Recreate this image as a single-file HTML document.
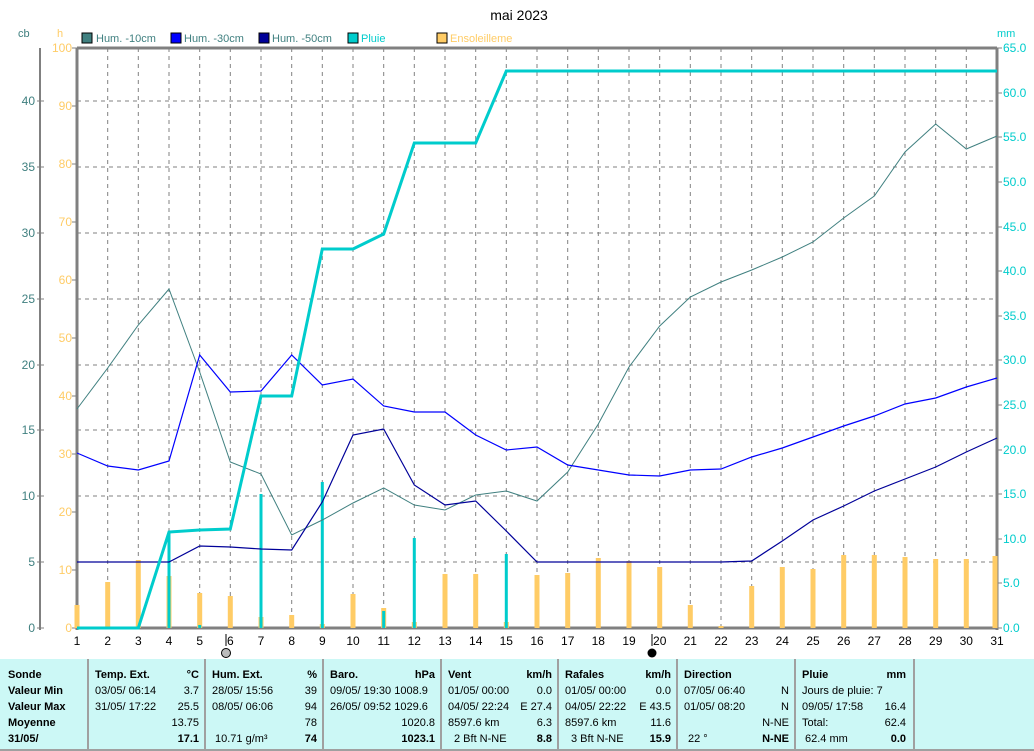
<!DOCTYPE html>
<html><head><meta charset="utf-8"><style>
body{margin:0;background:#fff;}
svg{display:block;font-family:"Liberation Sans",sans-serif;}
</style></head><body>
<svg width="1034" height="751" viewBox="0 0 1034 751" xmlns="http://www.w3.org/2000/svg">
<rect width="1034" height="751" fill="#fff"/>
<text x="519" y="20" font-size="14" text-anchor="middle" fill="#000">mai 2023</text>
<!-- legend -->
<g font-size="11">
<text x="18" y="37" fill="#408080">cb</text>
<text x="57" y="37" fill="#ffcc66">h</text>
<rect x="82" y="33" width="10" height="10" fill="#408080" stroke="#000"/><text x="96" y="42" fill="#408080">Hum. -10cm</text>
<rect x="171" y="33" width="10" height="10" fill="#0000ff" stroke="#000"/><text x="184" y="42" fill="#408080">Hum. -30cm</text>
<rect x="259" y="33" width="10" height="10" fill="#000099" stroke="#000"/><text x="272" y="42" fill="#408080">Hum. -50cm</text>
<rect x="348" y="33" width="10" height="10" fill="#00cccc" stroke="#000"/><text x="361" y="42" fill="#00cccc">Pluie</text>
<rect x="437" y="33" width="10" height="10" fill="#ffcc66" stroke="#000"/><text x="450" y="42" fill="#ffcc66">Ensoleilleme</text>
<text x="997" y="37" fill="#00cccc">mm</text>
</g>
<!-- grid -->
<g stroke="#808080" stroke-dasharray="4,4" stroke-width="1">
<path d="M107.7 48V628M138.3 48V628M169 48V628M199.7 48V628M230.3 48V628M261 48V628M291.7 48V628M322.3 48V628M353 48V628M383.7 48V628M414.3 48V628M445 48V628M475.7 48V628M506.3 48V628M537 48V628M567.7 48V628M598.3 48V628M629 48V628M659.7 48V628M690.3 48V628M721 48V628M751.7 48V628M782.3 48V628M813 48V628M843.7 48V628M874.3 48V628M905 48V628M935.7 48V628M966.3 48V628"/>
<path d="M77 562H997M77 496H997M77 430H997M77 365H997M77 299H997M77 233H997M77 167H997M77 101H997"/>
</g>
<!-- axes -->
<g stroke="#808080">
<line x1="40" y1="48" x2="40" y2="630" stroke-width="2"/>
<line x1="77" y1="48" x2="77" y2="630" stroke-width="3"/>
<line x1="997" y1="48" x2="997" y2="630" stroke-width="3"/>
<line x1="77" y1="48" x2="997" y2="48" stroke-width="3"/>
<line x1="77" y1="628" x2="997" y2="628" stroke-width="3"/>
<path d="M37 628H44M37 562H44M37 496H44M37 430H44M37 365H44M37 299H44M37 233H44M37 167H44M37 101H44"/>
<path d="M72 628H77M72 570H77M72 512H77M72 454H77M72 396H77M72 338H77M72 280H77M72 222H77M72 164H77M72 106H77M72 48H77"/>
<path d="M997 628H1002M997 583H1002M997 539H1002M997 494H1002M997 450H1002M997 405H1002M997 360H1002M997 316H1002M997 271H1002M997 227H1002M997 182H1002M997 137H1002M997 93H1002M997 48H1002"/>
</g>
<g font-size="12" fill="#408080" text-anchor="end">
<text x="35" y="632">0</text><text x="35" y="566">5</text><text x="35" y="500">10</text><text x="35" y="434">15</text><text x="35" y="369">20</text><text x="35" y="303">25</text><text x="35" y="237">30</text><text x="35" y="171">35</text><text x="35" y="105">40</text>
</g>
<g font-size="12" fill="#ffcc66" text-anchor="end">
<text x="72" y="632">0</text><text x="72" y="574">10</text><text x="72" y="516">20</text><text x="72" y="458">30</text><text x="72" y="400">40</text><text x="72" y="342">50</text><text x="72" y="284">60</text><text x="72" y="226">70</text><text x="72" y="168">80</text><text x="72" y="110">90</text><text x="72" y="52">100</text>
</g>
<g font-size="12" fill="#00cccc">
<text x="1003" y="632">0.0</text><text x="1003" y="587">5.0</text><text x="1003" y="543">10.0</text><text x="1003" y="498">15.0</text><text x="1003" y="454">20.0</text><text x="1003" y="409">25.0</text><text x="1003" y="364">30.0</text><text x="1003" y="320">35.0</text><text x="1003" y="275">40.0</text><text x="1003" y="231">45.0</text><text x="1003" y="186">50.0</text><text x="1003" y="141">55.0</text><text x="1003" y="97">60.0</text><text x="1003" y="52">65.0</text>
</g>
<g font-size="12" fill="#000" text-anchor="middle">
<text x="77" y="645">1</text><text x="107.7" y="645">2</text><text x="138.3" y="645">3</text><text x="169" y="645">4</text><text x="199.7" y="645">5</text><text x="230.3" y="645">6</text><text x="261" y="645">7</text><text x="291.7" y="645">8</text><text x="322.3" y="645">9</text><text x="353" y="645">10</text><text x="383.7" y="645">11</text><text x="414.3" y="645">12</text><text x="445" y="645">13</text><text x="475.7" y="645">14</text><text x="506.3" y="645">15</text><text x="537" y="645">16</text><text x="567.7" y="645">17</text><text x="598.3" y="645">18</text><text x="629" y="645">19</text><text x="659.7" y="645">20</text><text x="690.3" y="645">21</text><text x="721" y="645">22</text><text x="751.7" y="645">23</text><text x="782.3" y="645">24</text><text x="813" y="645">25</text><text x="843.7" y="645">26</text><text x="874.3" y="645">27</text><text x="905" y="645">28</text><text x="935.7" y="645">29</text><text x="966.3" y="645">30</text><text x="997" y="645">31</text>
</g>
<line x1="226" y1="634" x2="226" y2="646" stroke="#000"/>
<circle cx="226" cy="653" r="4.5" fill="#bbb" stroke="#000"/>
<line x1="652" y1="634" x2="652" y2="646" stroke="#000"/>
<circle cx="652" cy="653" r="4.5" fill="#000"/>
<!-- sunshine bars -->
<g stroke="#ffcc66" stroke-width="5">
<path d="M77 628V605M107.7 628V582M138.3 628V560M169 628V576M199.7 628V593M230.3 628V596M261 628V617M291.7 628V615M322.3 628V624M353 628V594M383.7 628V608M414.3 628V622M445 628V574M475.7 628V574M506.3 628V622M537 628V575M567.7 628V573M598.3 628V558M629 628V561M659.7 628V567M690.3 628V605M721 628V626M751.7 628V586M782.3 628V567M813 628V569M843.7 628V555M874.3 628V555M905 628V557M935.7 628V559M966.3 628V559M995 628V556"/>
</g>
<!-- daily rain bars -->
<g stroke="#00cccc" stroke-width="3">
<path d="M169 628V532M199.7 628V625M261 628V494M322.3 628V482M383.7 628V611M414.3 628V538M506.3 628V554"/>
</g>
<!-- lines -->
<polyline fill="none" stroke="#408080" stroke-width="1" points="77,409 107.7,368 138.3,325 169,289 199.7,372 230.3,462 261,474 291.7,535 322.3,520 353,503 383.7,488 414.3,505 445,510 475.7,495 506.3,491 537,501 567.7,472 598.3,424 629,367 659.7,326 690.3,297 721,282 751.7,270 782.3,257 813,242 843.7,218 874.3,196 905,152 935.7,124 966.3,149 997,136"/>
<polyline fill="none" stroke="#0000ff" stroke-width="1.2" points="77,453 107.7,466 138.3,470 169,461 199.7,355 230.3,392 261,391 291.7,355 322.3,385 353,379 383.7,406 414.3,412 445,412 475.7,435 506.3,450 537,447 567.7,465 598.3,470 629,475 659.7,476 690.3,470 721,469 751.7,457 782.3,448 813,437 843.7,426 874.3,416 905,404 935.7,398 966.3,387 997,378"/>
<polyline fill="none" stroke="#000099" stroke-width="1.2" points="77,562 107.7,562 138.3,562 169,562 199.7,546 230.3,547 261,549 291.7,550 322.3,502 353,435 383.7,429 414.3,485 445,505 475.7,501 506.3,531 537,562 567.7,562 598.3,562 629,562 659.7,562 690.3,562 721,562 751.7,561 782.3,541 813,520 843.7,506 874.3,491 905,479 935.7,467 966.3,452 997,438"/>
<polyline fill="none" stroke="#00cccc" stroke-width="3" points="77,628 138.3,628 169,532 199.7,530 230.3,529 261,396 291.7,396 322.3,249 353,249 383.7,234 414.3,143 475.7,143 506.3,71 997,71"/>
<!-- table -->
<rect x="0" y="659" width="1034" height="92" fill="#ccf8f6"/>
<g stroke="#a0a0a0" stroke-width="2">
<path d="M88 659V751M205 659V751M323 659V751M441 659V751M558 659V751M677 659V751M795 659V751M914 659V751"/>
</g>
<line x1="0" y1="750" x2="1034" y2="750" stroke="#a0a0a0" stroke-width="2"/>
<g font-size="11" fill="#000">
<g font-weight="bold">
<text x="8" y="678">Sonde</text><text x="8" y="694">Valeur Min</text><text x="8" y="710">Valeur Max</text><text x="8" y="726">Moyenne</text><text x="8" y="742">31/05/</text>
<text x="95" y="678">Temp. Ext.</text><text x="199" y="678" text-anchor="end">°C</text>
<text x="212" y="678">Hum. Ext.</text><text x="317" y="678" text-anchor="end">%</text>
<text x="330" y="678">Baro.</text><text x="435" y="678" text-anchor="end">hPa</text>
<text x="448" y="678">Vent</text><text x="552" y="678" text-anchor="end">km/h</text>
<text x="565" y="678">Rafales</text><text x="671" y="678" text-anchor="end">km/h</text>
<text x="684" y="678">Direction</text>
<text x="802" y="678">Pluie</text><text x="906" y="678" text-anchor="end">mm</text>
<text x="199" y="742" text-anchor="end">17.1</text><text x="317" y="742" text-anchor="end">74</text><text x="435" y="742" text-anchor="end">1023.1</text><text x="552" y="742" text-anchor="end">8.8</text><text x="671" y="742" text-anchor="end">15.9</text><text x="789" y="742" text-anchor="end">N-NE</text><text x="906" y="742" text-anchor="end">0.0</text>
</g>
<text x="95" y="694">03/05/  06:14</text><text x="199" y="694" text-anchor="end">3.7</text>
<text x="95" y="710">31/05/  17:22</text><text x="199" y="710" text-anchor="end">25.5</text>
<text x="199" y="726" text-anchor="end">13.75</text>
<text x="212" y="694">28/05/  15:56</text><text x="317" y="694" text-anchor="end">39</text>
<text x="212" y="710">08/05/  06:06</text><text x="317" y="710" text-anchor="end">94</text>
<text x="317" y="726" text-anchor="end">78</text>
<text x="215" y="742">10.71 g/m³</text>
<text x="330" y="694">09/05/  19:30 1008.9</text>
<text x="330" y="710">26/05/  09:52 1029.6</text>
<text x="435" y="726" text-anchor="end">1020.8</text>
<text x="448" y="694">01/05/  00:00</text><text x="552" y="694" text-anchor="end">0.0</text>
<text x="448" y="710">04/05/  22:24</text><text x="552" y="710" text-anchor="end">E 27.4</text>
<text x="448" y="726">8597.6 km</text><text x="552" y="726" text-anchor="end">6.3</text>
<text x="454" y="742">2 Bft N-NE</text>
<text x="565" y="694">01/05/  00:00</text><text x="671" y="694" text-anchor="end">0.0</text>
<text x="565" y="710">04/05/  22:22</text><text x="671" y="710" text-anchor="end">E 43.5</text>
<text x="565" y="726">8597.6 km</text><text x="671" y="726" text-anchor="end">11.6</text>
<text x="571" y="742">3 Bft N-NE</text>
<text x="684" y="694">07/05/  06:40</text><text x="789" y="694" text-anchor="end">N</text>
<text x="684" y="710">01/05/  08:20</text><text x="789" y="710" text-anchor="end">N</text>
<text x="789" y="726" text-anchor="end">N-NE</text>
<text x="688" y="742">22 °</text>
<text x="802" y="694">Jours de pluie: 7</text>
<text x="802" y="710">09/05/  17:58</text><text x="906" y="710" text-anchor="end">16.4</text>
<text x="802" y="726">Total:</text><text x="906" y="726" text-anchor="end">62.4</text>
<text x="805" y="742">62.4 mm</text>
</g>
</svg>
</body></html>
